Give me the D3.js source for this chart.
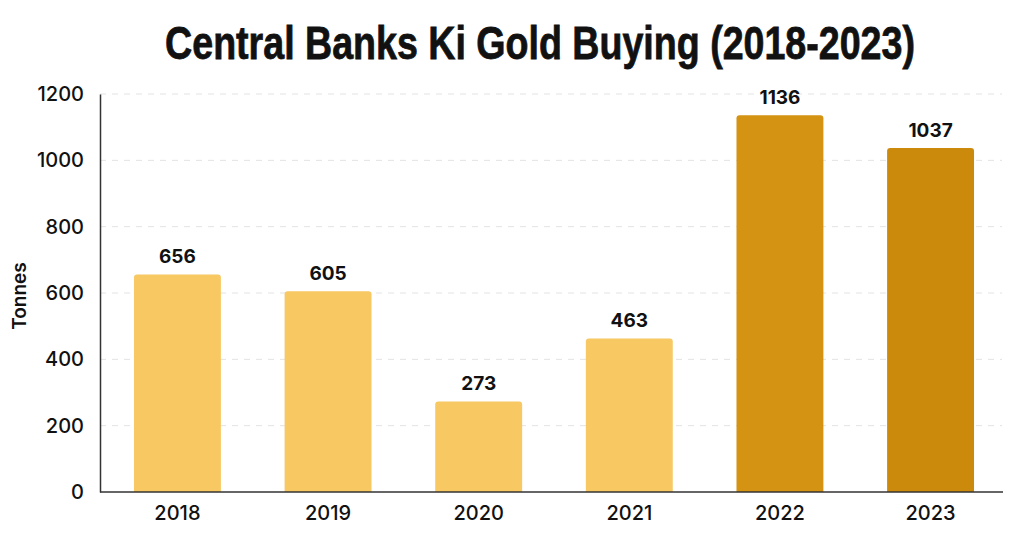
<!DOCTYPE html>
<html>
<head>
<meta charset="utf-8">
<script src="https://cdn.jsdelivr.net/npm/d3@7"></script>
<style>
  html, body { margin: 0; padding: 0; background: #fff; }
  svg { display: block; }
</style>
</head>
<body>
<div id="chart"></div>
<script>
const years = ["2018", "2019", "2020", "2021", "2022", "2023"];
const tonnes = [656, 605, 273, 463, 1136, 1037];
const barColors = ["#F8C862", "#F8C862", "#F8C862", "#F8C862", "#D49313", "#CB8A0B"];
const yTicks = [0, 200, 400, 600, 800, 1000, 1200];

const W = 1024, H = 535;
const plot = { left: 100, right: 1002, top: 94, bottom: 492 };

const svg = d3.select("#chart").append("svg")
    .attr("width", W)
    .attr("height", H);

const x = d3.scaleBand()
    .domain(years)
    .range([plot.left, 1008])
    .paddingInner(0.423)
    .paddingOuter(0.2256);

const y = d3.scaleLinear()
    .domain([0, 1200])
    .range([plot.bottom, plot.top]);

// title, squeezed horizontally to look condensed
const title = svg.append("text")
    .attr("text-anchor", "middle")
    .style("font-family", "'Liberation Sans', Arial, sans-serif")
    .style("font-weight", 700)
    .style("font-size", "47px")
    .style("fill", "#111")
    .style("stroke", "#111")
    .style("stroke-width", 0.8)
    .text("Central Banks Ki Gold Buying (2018-2023)");
const tw = title.node().getComputedTextLength();
title.attr("transform", `translate(540,59) scale(${750 / tw},1)`);

// grid
svg.append("g").selectAll("line")
    .data(yTicks.filter(d => d > 0))
    .join("line")
    .attr("x1", plot.left)
    .attr("x2", plot.right)
    .attr("y1", d => y(d))
    .attr("y2", d => y(d))
    .attr("stroke", "#e3e3e3")
    .attr("stroke-width", 1)
    .attr("stroke-dasharray", "6,6");

// bars with rounded tops
const r = 3;
svg.append("g").selectAll("path")
    .data(tonnes)
    .join("path")
    .attr("d", (d, i) => {
        const x0 = x(years[i]), x1 = x0 + x.bandwidth();
        const yt = y(d), yb = y(0);
        return `M${x0},${yb}V${yt + r}Q${x0},${yt} ${x0 + r},${yt}H${x1 - r}Q${x1},${yt} ${x1},${yt + r}V${yb}Z`;
    })
    .attr("fill", (d, i) => barColors[i]);

// value labels
svg.append("g").selectAll("text")
    .data(tonnes)
    .join("text")
    .attr("x", (d, i) => x(years[i]) + x.bandwidth() / 2)
    .attr("y", d => y(d) - 11)
    .attr("text-anchor", "middle")
    .style("font-family", "Inter, 'Open Sans', sans-serif")
    .style("font-weight", 700)
    .style("font-size", "19px")
    .style("fill", "#111")
    .text(d => d);

// axes
const yAxis = svg.append("g")
    .attr("transform", `translate(${plot.left},0)`)
    .call(d3.axisLeft(y).tickValues(yTicks).tickFormat(d3.format("d")).tickSize(0).tickPadding(16));
yAxis.select(".domain").attr("stroke", "#333").attr("stroke-width", 1.5);

const xAxis = svg.append("g")
    .attr("transform", `translate(0,${plot.bottom})`)
    .call(d3.axisBottom(x).tickSize(0).tickPadding(14));
xAxis.select(".domain")
    .attr("d", `M${plot.left},0H${plot.right + 1}`)
    .attr("stroke", "#333").attr("stroke-width", 1.5);

svg.selectAll(".tick text")
    .style("font-family", "Inter, 'Open Sans', sans-serif")
    .style("font-weight", 500)
    .style("font-size", "20px")
    .style("fill", "#111");

// y label
svg.append("text")
    .attr("transform", "translate(26,296) rotate(-90)")
    .attr("text-anchor", "middle")
    .style("font-family", "Inter, 'Open Sans', sans-serif")
    .style("font-weight", 600)
    .style("font-size", "19px")
    .style("fill", "#111")
    .text("Tonnes");
</script>
</body>
</html>
